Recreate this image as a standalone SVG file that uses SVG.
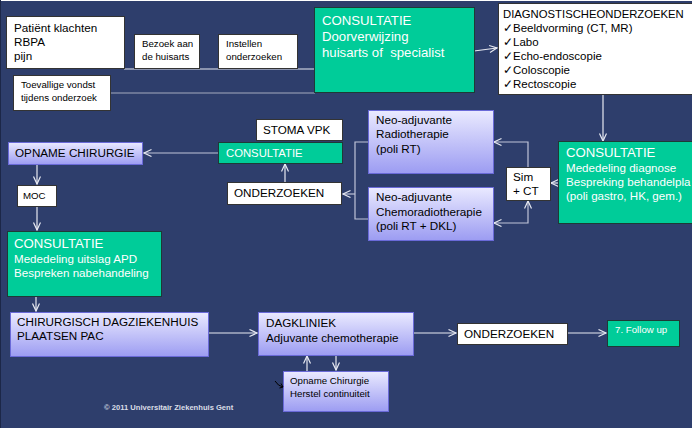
<svg xmlns="http://www.w3.org/2000/svg" width="692" height="428" viewBox="0 0 692 428">
<style>
  text { font-family: "Liberation Sans", Arial, sans-serif; }
  .w { fill: #ffffff; stroke: #333333; stroke-width: 1; }
  .g { fill: #00CC99; stroke: #1E3A36; stroke-width: 1; }
  .p { fill: url(#lav); stroke: #6A6AD8; stroke-width: 1; }
  .tb { fill: #000000; font-size: 11.7px; }
  .ts { fill: #000000; font-size: 9.7px; }
  .tw { fill: #ffffff; font-size: 11.6px; }
  .th { fill: #ffffff; font-size: 13.2px; }
  .c { fill: none; stroke: #E8EAF2; stroke-width: 1.2; }
  .cg { fill: none; stroke: #BFC4D8; stroke-width: 1.2; }
  .a { marker-end: url(#ah); }
</style>
<defs>
  <linearGradient id="lav" x1="0" y1="0" x2="0" y2="1">
    <stop offset="0" stop-color="#EAEAFF"/>
    <stop offset="1" stop-color="#9C9CF2"/>
  </linearGradient>
  <marker id="ah" markerUnits="userSpaceOnUse" markerWidth="10" markerHeight="10" refX="8" refY="4" orient="auto-start-reverse">
    <path d="M0.5,0.5 L8,4 L0.5,7.5" fill="none" stroke="#E8EAF2" stroke-width="1.2"/>
  </marker>
  <clipPath id="clipall"><rect x="0" y="0" width="692" height="428"/></clipPath>
</defs>
<rect x="0" y="0" width="692" height="428" fill="#2E3E6C"/>
<line x1="0" y1="0.5" x2="692" y2="0.5" stroke="#ffffff" stroke-width="1"/>
<line x1="0.5" y1="0" x2="0.5" y2="428" stroke="#1C2748" stroke-width="1"/>

<g id="connectors">
  <path class="c" d="M124,69 H315"/>
  <path d="M111,93 H315" fill="none" stroke="#A4AABD" stroke-width="1.2"/>
  <path class="c a" d="M474,51 L497,48"/>
  <path class="c a" d="M603,95 V141"/>
  <path class="c a" d="M558,183 H551"/>
  <path class="cg a" d="M528,167 V142 H494"/>
  <path class="cg" d="M494,223 H528 V201" marker-start="url(#ah)" marker-end="url(#ah)"/>
  <path class="cg" d="M368,142 H355 V219 H368"/>
  <path class="cg a" d="M355,194 H343"/>
  <path class="c a" d="M285,182 V164"/>
  <path class="cg a" d="M218,153 H144"/>
  <path class="c a" d="M37,164 V184"/>
  <path class="c a" d="M37,206 V230"/>
  <path class="c a" d="M36,296 V311"/>
  <path class="c a" d="M208,333 H257"/>
  <path class="c a" d="M413,333 H456"/>
  <path class="c a" d="M567,333 H606"/>
  <path class="c a" d="M307,371 V356"/>
  <path class="c a" d="M336,355 V370"/>
</g>

<g id="patient">
  <rect class="w" x="6.5" y="16.5" width="118" height="52"/>
  <text class="tb" x="14" y="32">Patiënt klachten</text>
  <text class="tb" x="14" y="46">RBPA</text>
  <text class="tb" x="14" y="60">pijn</text>
</g>
<g id="bezoek">
  <rect class="w" x="134.5" y="34.5" width="65" height="34"/>
  <text class="ts" x="142" y="47">Bezoek aan</text>
  <text class="ts" x="142" y="60">de huisarts</text>
</g>
<g id="instellen">
  <rect class="w" x="218.5" y="34.5" width="79" height="34"/>
  <text class="ts" x="226" y="47">Instellen</text>
  <text class="ts" x="226" y="60">onderzoeken</text>
</g>
<g id="toevallig">
  <rect class="w" x="13.5" y="75.5" width="97" height="35"/>
  <text class="ts" x="21" y="88">Toevallige vondst</text>
  <text class="ts" x="21" y="101">tijdens onderzoek</text>
</g>
<g id="consultatie-top">
  <rect class="g" x="314.5" y="7.5" width="160" height="85"/>
  <text class="th" x="322" y="25">CONSULTATIE</text>
  <text class="th" x="322" y="41">Doorverwijzing</text>
  <text class="th" x="322" y="57" xml:space="preserve">huisarts of  specialist</text>
</g>
<g id="diagnostisch" clip-path="url(#clipall)">
  <rect class="w" x="498.5" y="3.5" width="200" height="91"/>
  <text class="tb" x="503" y="18" style="font-size:11.3px">DIAGNOSTISCHEONDERZOEKEN</text>
  <text class="tb" x="503" y="32" style="font-size:11.5px">✓Beeldvorming (CT, MR)</text>
  <text class="tb" x="503" y="46" style="font-size:11.5px">✓Labo</text>
  <text class="tb" x="503" y="60" style="font-size:11.5px">✓Echo-endoscopie</text>
  <text class="tb" x="503" y="74" style="font-size:11.5px">✓Coloscopie</text>
  <text class="tb" x="503" y="88" style="font-size:11.5px">✓Rectoscopie</text>
</g>
<g id="consultatie-right" clip-path="url(#clipall)">
  <rect class="g" x="558.5" y="141.5" width="140" height="82"/>
  <text class="th" x="566" y="157">CONSULTATIE</text>
  <text class="tw" x="566" y="172">Mededeling diagnose</text>
  <text class="tw" x="566" y="186">Bespreking behandelpla</text>
  <text class="tw" x="566" y="200">(poli gastro, HK, gem.)</text>
</g>
<g id="simct">
  <rect class="w" x="506.5" y="167.5" width="44" height="33"/>
  <text class="tb" x="513" y="181">Sim</text>
  <text class="tb" x="513" y="195">+ CT</text>
</g>
<g id="neo-rt">
  <rect class="p" x="368.5" y="110.5" width="125" height="63"/>
  <text class="tb" x="376" y="124">Neo-adjuvante</text>
  <text class="tb" x="376" y="138">Radiotherapie</text>
  <text class="tb" x="376" y="153">(poli RT)</text>
</g>
<g id="neo-crt">
  <rect class="p" x="368.5" y="187.5" width="125" height="53"/>
  <text class="tb" x="376" y="201">Neo-adjuvante</text>
  <text class="tb" x="376" y="216">Chemoradiotherapie</text>
  <text class="tb" x="376" y="230">(poli RT + DKL)</text>
</g>
<g id="stoma">
  <rect class="w" x="256.5" y="119.5" width="86" height="21"/>
  <text class="tb" x="263" y="134">STOMA VPK</text>
</g>
<g id="consultatie-mid">
  <rect class="g" x="218.5" y="142.5" width="124" height="21"/>
  <text class="tw" x="226" y="157" style="font-size:11.3px">CONSULTATIE</text>
</g>
<g id="onderzoeken-mid">
  <rect class="w" x="227.5" y="182.5" width="114" height="22"/>
  <text class="tb" x="234" y="197">ONDERZOEKEN</text>
</g>
<g id="opname">
  <rect class="p" x="8.5" y="142.5" width="134" height="22"/>
  <text class="tb" x="15" y="157">OPNAME CHIRURGIE</text>
</g>
<g id="moc">
  <rect class="w" x="17.5" y="185.5" width="39" height="21"/>
  <text class="ts" x="23" y="199">MOC</text>
</g>
<g id="consultatie-left">
  <rect class="g" x="7.5" y="231.5" width="154" height="65"/>
  <text class="th" x="14" y="248">CONSULTATIE</text>
  <text class="tw" x="14" y="263">Mededeling uitslag APD</text>
  <text class="tw" x="14" y="277">Bespreken nabehandeling</text>
</g>
<g id="chirurgisch">
  <rect class="p" x="10.5" y="312.5" width="198" height="44"/>
  <text class="tb" x="17" y="326">CHIRURGISCH DAGZIEKENHUIS</text>
  <text class="tb" x="17" y="340">PLAATSEN PAC</text>
</g>
<g id="dagkliniek">
  <rect class="p" x="258.5" y="312.5" width="155" height="43"/>
  <text class="tb" x="266" y="327">DAGKLINIEK</text>
  <text class="tb" x="266" y="342">Adjuvante chemotherapie</text>
</g>
<g id="onderzoeken-bottom">
  <rect class="w" x="457.5" y="323.5" width="110" height="21"/>
  <text class="tb" x="464" y="338">ONDERZOEKEN</text>
</g>
<g id="followup">
  <rect class="g" x="607.5" y="320.5" width="72" height="26"/>
  <text x="615" y="333" fill="#ffffff" font-size="9.7">7. Follow up</text>
</g>
<g id="opname-herstel">
  <rect class="p" x="283.5" y="371.5" width="105" height="40"/>
  <text class="ts" x="290" y="384">Opname Chirurgie</text>
  <text class="ts" x="290" y="397">Herstel continuiteit</text>
</g>
<path d="M275,381 Q278,386 283,387 M281,383.5 L283,387 L279.5,388" fill="none" stroke="#000000" stroke-width="1"/>
<text x="104" y="410" fill="#DADDE6" font-size="7.6" font-weight="bold">© 2011 Universitair Ziekenhuis Gent</text>
</svg>
